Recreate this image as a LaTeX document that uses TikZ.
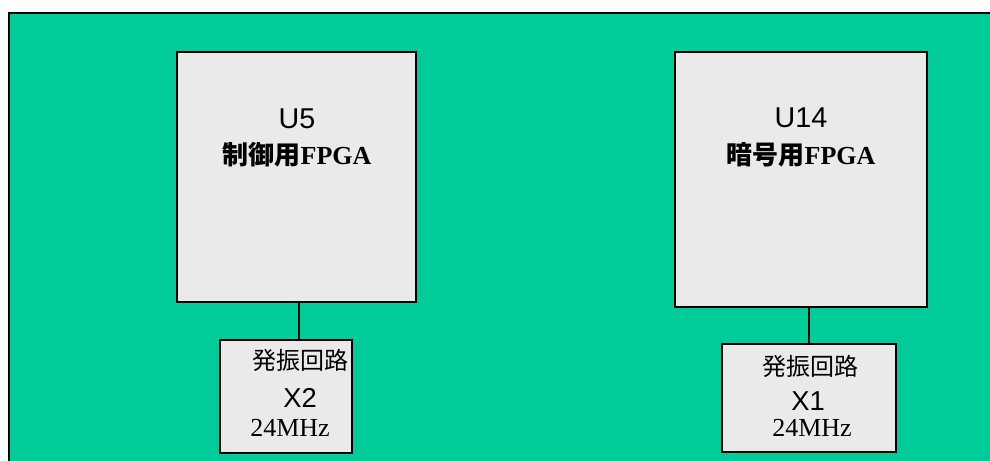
\documentclass[tikz,border=0pt]{standalone}
\usepackage{fontspec}
\setmainfont{Liberation Serif}
\newfontfamily\jp{Noto Sans CJK JP}
\newfontfamily\arialf{Liberation Sans}
\definecolor{board}{RGB}{0,204,153}
\definecolor{chip}{RGB}{234,234,234}
\tikzset{
  chipbox/.style={draw=black, line width=1.5pt, fill=chip, rectangle, inner sep=0pt},
  lbl/.style={inner sep=0pt, font=\fontsize{18}{20}\selectfont},
  big/.style={inner sep=0pt, font=\fontsize{21.5}{24}\selectfont},
  head/.style={inner sep=0pt, font=\fontsize{19.5}{22}\selectfont},
  wire/.style={line width=2.2pt, black}
}
\begin{document}
\begin{tikzpicture}[x=0.75pt,y=-0.75pt]
\useasboundingbox (0,0) rectangle (990,461);
\clip (0,0) rectangle (990,461);
\fill[white] (0,0) rectangle (990,461);
\draw[fill=board, line width=1.1pt] (9,13) rectangle (1000,475);
% chips
\node[chipbox, minimum width=239*0.75pt, minimum height=250*0.75pt] (u5) at (296.5,177) {};
\node[chipbox, minimum width=252*0.75pt, minimum height=255*0.75pt] (u14) at (801,179.5) {};
\node[chipbox, minimum width=132*0.75pt, minimum height=113*0.75pt] (x2) at (286,396.5) {};
\node[chipbox, minimum width=174*0.75pt, minimum height=108*0.75pt] (x1) at (809,398) {};
% connectors
\coordinate (k2) at (299,320);
\coordinate (k1) at (809,320);
\draw[wire] (u5.south -| k2) -- (x2.north -| k2);
\draw[wire] (u14.south -| k1) -- (x1.north -| k1);
% labels
\node[big] (u5a) at (297,119) {\arialf U5};
\node[head] (u5b) at (297,155) {\bfseries{\jp 制御用}FPGA};
\node[big] (u14a) at (801,118) {\arialf U14};
\node[head] (u14b) at (801,155) {\bfseries{\jp 暗号用}FPGA};
\node[lbl] (x2a) at (300,360) {\jp 発振回路};
\node[lbl, font=\fontsize{20.5}{22}\selectfont] (x2b) at (300,398) {\arialf X2};
\node[lbl, font=\fontsize{19.5}{22}\selectfont] (x2c) at (290,428) {24MHz};
\node[lbl] (x1a) at (810,366) {\jp 発振回路};
\node[lbl, font=\fontsize{20.5}{22}\selectfont] (x1b) at (808,401) {\arialf X1};
\node[lbl, font=\fontsize{19.5}{22}\selectfont] (x1c) at (812,428) {24MHz};
\end{tikzpicture}
\end{document}
